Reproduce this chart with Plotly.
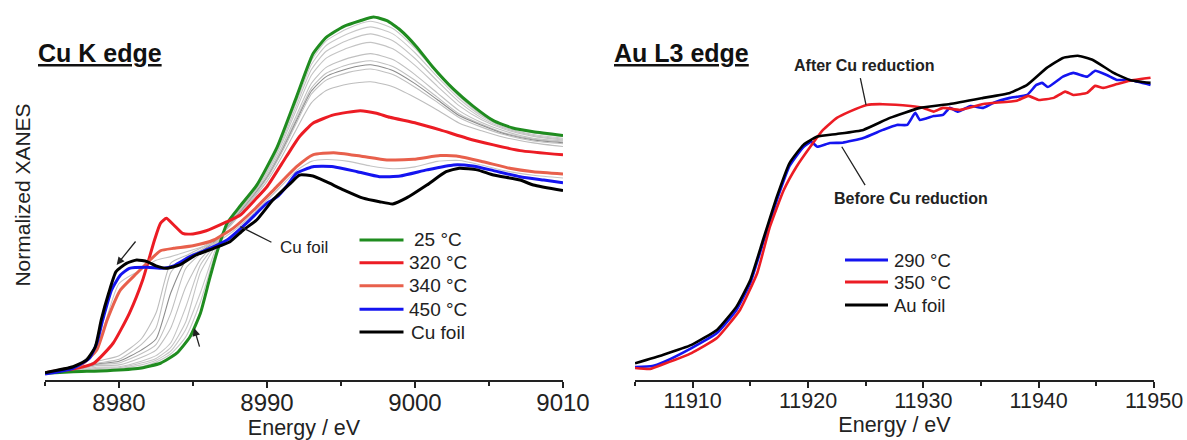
import plotly.graph_objects as go

# ---------------- Cu K edge (left panel) ----------------
GREEN_E = [8975.1, 8976.9, 8979.2, 8981.4, 8982.8, 8983.9, 8984.8, 8985.5, 8986.1, 8986.6,
           8987.3, 8988.2, 8989.3, 8990.7, 8992.0, 8993.1, 8994.0, 8995.2, 8996.3, 8997.2,
           8998.1, 8999.0, 9000.1, 9001.2, 9002.6, 9003.9, 9005.3, 9006.6, 9008.0, 9010.0]
GREEN_Y = [0.015, 0.023, 0.029, 0.042, 0.069, 0.123, 0.212, 0.339, 0.519, 0.663,
           0.825, 0.92, 1.03, 1.24, 1.51, 1.74, 1.83, 1.89, 1.92, 1.94,
           1.92, 1.87, 1.78, 1.67, 1.55, 1.46, 1.38, 1.34, 1.32, 1.30]

RED_E = [8975.0, 8976.9, 8978.3, 8979.6, 8980.7, 8981.6, 8982.4, 8982.8, 8983.2, 8983.7,
         8984.3, 8985.0, 8985.9, 8987.3, 8988.2, 8989.3, 8990.0, 8991.3, 8992.2, 8993.1,
         8994.5, 8996.3, 8997.4, 8998.3, 9000.1, 9001.7, 9003.5, 9005.3, 9007.1, 9010.0]
RED_Y = [0.018, 0.038, 0.069, 0.177, 0.339, 0.519, 0.735, 0.825, 0.852, 0.816,
         0.771, 0.768, 0.785, 0.834, 0.87, 0.962, 1.023, 1.185, 1.294, 1.366,
         1.411, 1.434, 1.42, 1.398, 1.366, 1.33, 1.285, 1.249, 1.218, 1.195]

ORANGE_E = [8975.0, 8977.4, 8978.5, 8979.2, 8980.1, 8981.2, 8982.1, 8982.8, 8983.7, 8985.0,
            8986.4, 8987.7, 8989.1, 8990.5, 8992.0, 8993.1, 8994.5, 8996.3, 8998.1, 8999.9,
            9001.7, 9002.8, 9004.6, 9006.4, 9008.0, 9010.0]
ORANGE_Y = [0.018, 0.059, 0.141, 0.303, 0.465, 0.555, 0.627, 0.677, 0.69, 0.704,
            0.735, 0.798, 0.897, 1.01, 1.131, 1.195, 1.207, 1.189, 1.168, 1.171,
            1.191, 1.189, 1.158, 1.123, 1.104, 1.092]

BLUE_E = [8975.0, 8976.9, 8978.0, 8978.5, 8978.9, 8979.5, 8980.1, 8980.7, 8981.9, 8983.0,
          8983.7, 8984.8, 8985.9, 8987.3, 8988.6, 8990.0, 8990.7, 8991.3, 8992.0, 8993.1,
          8994.5, 8996.1, 8997.6, 8999.0, 9000.8, 9002.6, 9003.9, 9005.3, 9007.1, 9008.7, 9010.0]
BLUE_Y = [0.011, 0.042, 0.096, 0.177, 0.303, 0.465, 0.546, 0.582, 0.588, 0.582,
          0.595, 0.645, 0.681, 0.735, 0.825, 0.934, 0.969, 1.023, 1.096, 1.131,
          1.131, 1.104, 1.077, 1.081, 1.114, 1.141, 1.135, 1.11, 1.077, 1.059, 1.045]

FOIL_E = [8975.0, 8976.9, 8977.8, 8978.4, 8978.8, 8979.3, 8979.8, 8980.5, 8981.2, 8981.9,
          8982.5, 8983.2, 8984.1, 8985.2, 8986.4, 8987.5, 8988.4, 8989.3, 8990.4, 8991.6,
          8992.2, 8993.1, 8994.0, 8995.2, 8996.5, 8997.6, 8998.5, 8999.4, 9000.8, 9002.1,
          9003.0, 9004.2, 9005.3, 9007.1, 9008.0, 9010.0]
FOIL_Y = [0.018, 0.05, 0.086, 0.158, 0.303, 0.447, 0.564, 0.609, 0.627, 0.618,
          0.595, 0.582, 0.6, 0.654, 0.69, 0.726, 0.789, 0.843, 0.951, 1.042,
          1.086, 1.081, 1.05, 1.005, 0.961, 0.942, 0.93, 0.961, 1.032, 1.104,
          1.123, 1.114, 1.086, 1.059, 1.032, 1.002]

# intermediate spectra of the temperature series (thin grey lines)
GRAY_E = [8975, 8977, 8978.5, 8980, 8981.5, 8982.5, 8983.5, 8984.5, 8985.5, 8986.5, 8987.5,
          8988.5, 8990, 8991, 8992, 8993, 8994, 8995.5, 8997, 8998.5, 9000, 9001.5, 9003,
          9004.5, 9006, 9008, 9010]
GRAY_1 = [0.016, 0.024, 0.030, 0.035, 0.050, 0.075, 0.120, 0.210, 0.400, 0.660, 0.850, 0.945,
          1.125, 1.293, 1.499, 1.704, 1.811, 1.879, 1.917, 1.878, 1.771, 1.636, 1.510, 1.412,
          1.353, 1.314, 1.295]
GRAY_2 = [0.016, 0.025, 0.035, 0.040, 0.060, 0.085, 0.135, 0.250, 0.450, 0.680, 0.845, 0.940,
          1.118, 1.283, 1.483, 1.683, 1.786, 1.851, 1.887, 1.849, 1.747, 1.618, 1.497, 1.405,
          1.345, 1.305, 1.285]
GRAY_3 = [0.016, 0.026, 0.041, 0.045, 0.070, 0.095, 0.155, 0.290, 0.560, 0.700, 0.840, 0.935,
          1.110, 1.270, 1.464, 1.656, 1.755, 1.816, 1.849, 1.812, 1.716, 1.595, 1.480, 1.395,
          1.340, 1.300, 1.280]
GRAY_4 = [0.016, 0.028, 0.047, 0.050, 0.080, 0.110, 0.180, 0.370, 0.600, 0.710, 0.835, 0.930,
          1.099, 1.255, 1.442, 1.625, 1.718, 1.774, 1.803, 1.768, 1.679, 1.567, 1.460, 1.385,
          1.335, 1.295, 1.275]
GRAY_5 = [0.016, 0.030, 0.056, 0.060, 0.100, 0.140, 0.260, 0.480, 0.630, 0.720, 0.830, 0.925,
          1.086, 1.235, 1.411, 1.582, 1.668, 1.718, 1.742, 1.710, 1.629, 1.530, 1.433, 1.370,
          1.325, 1.285, 1.270]
GRAY_6 = [0.016, 0.031, 0.062, 0.070, 0.120, 0.170, 0.340, 0.580, 0.660, 0.725, 0.825, 0.920,
          1.077, 1.223, 1.392, 1.556, 1.636, 1.683, 1.704, 1.673, 1.598, 1.507, 1.416, 1.360,
          1.315, 1.280, 1.265]
GRAY_7 = [0.016, 0.032, 0.065, 0.080, 0.140, 0.200, 0.450, 0.620, 0.670, 0.730, 0.820, 0.915,
          1.072, 1.215, 1.381, 1.540, 1.618, 1.662, 1.682, 1.651, 1.580, 1.494, 1.406, 1.355,
          1.310, 1.275, 1.260]
GRAY_8 = [0.016, 0.033, 0.069, 0.090, 0.170, 0.260, 0.560, 0.640, 0.680, 0.735, 0.815, 0.910,
          1.067, 1.208, 1.369, 1.524, 1.599, 1.641, 1.659, 1.629, 1.561, 1.480, 1.396, 1.345,
          1.305, 1.270, 1.255]
GRAY_9 = [0.016, 0.035, 0.079, 0.110, 0.200, 0.340, 0.610, 0.650, 0.690, 0.740, 0.810, 0.905,
          1.052, 1.185, 1.335, 1.476, 1.543, 1.578, 1.590, 1.563, 1.505, 1.438, 1.366, 1.325,
          1.290, 1.260, 1.240]
GRAY_10 = [0.016, 0.046, 0.160, 0.500, 0.575, 0.625, 0.645, 0.670, 0.695, 0.720, 0.770, 0.835,
           0.950, 1.030, 1.110, 1.160, 1.170, 1.160, 1.135, 1.120, 1.130, 1.160, 1.165, 1.140,
           1.110, 1.085, 1.070]
GRAY_SERIES = [GRAY_1, GRAY_2, GRAY_3, GRAY_4, GRAY_5, GRAY_6, GRAY_7, GRAY_8, GRAY_9, GRAY_10]
GRAY_SHADES = ["#c8c8c8", "#c8c8c8", "#c4c4c4", "#c4c4c4", "#c0c0c0", "#c0c0c0", "#8c8c8c",
               "#c0c0c0", "#bdbdbd", "#c4c4c4"]

CU_NAMES = ["25 °C", "320 °C", "340 °C", "450 °C", "Cu foil"]
CU_COLORS = ["#1f8c1f", "#ec1c24", "#e8604c", "#1414f0", "#000000"]

# ---------------- Au L3 edge (right panel) ----------------
AUFOIL_E = [11905.0, 11907.4, 11909.9, 11912.1, 11913.8, 11915.0, 11916.1, 11917.3, 11918.4,
            11919.6, 11920.8, 11922.5, 11924.8, 11927.1, 11929.7, 11932.3, 11935.2, 11937.5,
            11939.0, 11940.7, 11942.1, 11943.4, 11944.7, 11946.5, 11947.9, 11949.7]
AUFOIL_Y = [0.069, 0.114, 0.168, 0.249, 0.375, 0.519, 0.735, 0.969, 1.151,
            1.249, 1.294, 1.308, 1.33, 1.395, 1.449, 1.47, 1.503, 1.53,
            1.573, 1.665, 1.719, 1.731, 1.708, 1.638, 1.60, 1.584]

AU290_E = [11905.0, 11906.5, 11907.5, 11909.9, 11912.1, 11913.8, 11915.0, 11916.1, 11917.3,
           11918.4, 11919.6, 11920.3, 11920.8, 11921.9, 11923.0, 11924.8, 11926.5, 11927.7,
           11928.6, 11929.3, 11929.7, 11930.9, 11931.7, 11932.3, 11933.0, 11934.1, 11935.2,
           11936.1, 11937.5, 11939.0, 11939.8, 11940.3, 11940.8, 11942.1, 11943.0, 11944.2,
           11944.9, 11945.9, 11946.8, 11947.9, 11949.7]
AU290_Y = [0.049, 0.054, 0.076, 0.151, 0.232, 0.357, 0.503, 0.719, 0.951,
           1.135, 1.238, 1.266, 1.239, 1.259, 1.261, 1.286, 1.33, 1.357,
           1.357, 1.422, 1.384, 1.405, 1.411, 1.449, 1.429, 1.459, 1.449,
           1.477, 1.503, 1.519, 1.573, 1.584, 1.562, 1.618, 1.638, 1.618,
           1.65, 1.627, 1.60, 1.60, 1.573]

AU350_E = [11905.0, 11906.3, 11907.5, 11909.9, 11912.1, 11914.1, 11915.6, 11916.7, 11917.9,
           11919.0, 11920.2, 11921.3, 11922.5, 11923.6, 11925.1, 11926.5, 11928.9, 11930.0,
           11930.9, 11931.7, 11933.2, 11935.2, 11938.1, 11939.1, 11940.0, 11941.3, 11942.3,
           11943.0, 11944.2, 11944.9, 11945.6, 11946.8, 11947.9, 11949.7]
AU350_Y = [0.043, 0.038, 0.065, 0.124, 0.205, 0.357, 0.557, 0.807, 1.005,
           1.131, 1.239, 1.33, 1.395, 1.429, 1.465, 1.469, 1.459, 1.449,
           1.429, 1.449, 1.438, 1.47, 1.488, 1.514, 1.492, 1.503, 1.537,
           1.519, 1.53, 1.568, 1.557, 1.578, 1.596, 1.612]

AU_NAMES = ["290 °C", "350 °C", "Au foil"]
AU_COLORS = ["#1414f0", "#ec1c24", "#000000"]

CU_TICKS = [8980, 8990, 9000, 9010]
AU_TICKS = [11910, 11920, 11930, 11940, 11950]

# ---------------- page geometry ----------------
FW, FH = 1187, 440


def px(xp):
    return xp / FW


def py(yp):
    return 1 - yp / FH


FONT = "Liberation Sans, Arial, sans-serif"
TXT = "#222222"
Y_RANGE = [-0.0216, 1.978]

fig = go.Figure()

for g, c in zip(GRAY_SERIES, GRAY_SHADES):
    fig.add_trace(go.Scatter(x=GRAY_E, y=g, mode="lines",
                             line=dict(color=c, width=1.1, shape="spline", smoothing=0.6),
                             showlegend=False, hoverinfo="skip", xaxis="x", yaxis="y"))

cu_series = [(GREEN_E, GREEN_Y), (RED_E, RED_Y), (ORANGE_E, ORANGE_Y), (BLUE_E, BLUE_Y), (FOIL_E, FOIL_Y)]
for (ex, ey), name, col in zip(cu_series, CU_NAMES, CU_COLORS):
    fig.add_trace(go.Scatter(x=ex, y=ey, mode="lines", name=name,
                             line=dict(color=col, width=3, shape="spline", smoothing=0.5),
                             xaxis="x", yaxis="y", showlegend=False))

au_series = [(AU290_E, AU290_Y), (AU350_E, AU350_Y), (AUFOIL_E, AUFOIL_Y)]
for (ex, ey), name, col in zip(au_series, AU_NAMES, AU_COLORS):
    fig.add_trace(go.Scatter(x=ex, y=ey, mode="lines", name=name,
                             line=dict(color=col, width=2.6, shape="spline", smoothing=0.4),
                             xaxis="x2", yaxis="y2", showlegend=False))


def xaxis_style(tick_size):
    return dict(showline=True, linecolor=TXT, linewidth=1.5, ticks="outside", ticklen=6,
                tickwidth=1.5, tickcolor=TXT, showgrid=False, zeroline=False, automargin=False,
                tickfont=dict(family=FONT, size=tick_size, color=TXT), ticklabelstandoff=-6,
                minor=dict(ticks="outside", ticklen=4, tickwidth=1.5, tickcolor=TXT, dtick=5),
                title=dict(text="Energy / eV", font=dict(family=FONT, size=21.5, color=TXT),
                           standoff=2))


fig.update_layout(
    template="none",
    width=FW, height=FH, margin=dict(l=0, r=0, t=0, b=0, pad=0, autoexpand=False), autosize=False,
    paper_bgcolor="white", plot_bgcolor="white",
    font=dict(family=FONT, color=TXT),
    xaxis=dict(domain=[px(45), px(563)], range=[8975, 9010], tickvals=CU_TICKS,
               ticktext=[str(t) for t in CU_TICKS], anchor="y", **xaxis_style(24)),
    yaxis=dict(domain=[py(380), py(10)], range=Y_RANGE, showline=False, showticklabels=False,
               ticks="", showgrid=False, zeroline=False, automargin=False,
               title=dict(text="Normalized XANES", font=dict(family=FONT, size=21, color=TXT),
                          standoff=7)),
    xaxis2=dict(domain=[px(635), px(1154)], range=[11905, 11950], tickvals=AU_TICKS,
                ticktext=[str(t) for t in AU_TICKS], anchor="y2", **xaxis_style(21.5)),
    yaxis2=dict(domain=[py(380), py(10)], range=Y_RANGE, anchor="x2", showline=False,
                showticklabels=False, ticks="", showgrid=False, zeroline=False, automargin=False),
    showlegend=False,
)

annotations = [
    dict(text="<b><u>Cu K edge</u></b>", xref="paper", yref="paper", x=px(36), y=py(53),
         xanchor="left", yanchor="middle", showarrow=False, font=dict(family=FONT, size=25, color="#111")),
    dict(text="<b><u>Au L3 edge</u></b>", xref="paper", yref="paper", x=px(612), y=py(53),
         xanchor="left", yanchor="middle", showarrow=False, font=dict(family=FONT, size=25, color="#111")),
    # Cu foil label with leader line
    dict(text="Cu foil", xref="x", yref="y", x=8992.5, y=0.697, xanchor="center", yanchor="middle",
         showarrow=False, font=dict(family=FONT, size=17, color=TXT)),
    dict(text="", xref="x", yref="y", x=8988.2, y=0.807, axref="x", ayref="y", ax=8990.4, ay=0.719,
         showarrow=True, arrowhead=0, arrowwidth=1.3, arrowcolor=TXT),
    # arrows showing the spectral evolution
    dict(text="", xref="x", yref="y", x=8979.84, y=0.60, axref="x", ayref="y", ax=8981.2, ay=0.735,
         showarrow=True, arrowhead=2, arrowsize=1.2, arrowwidth=1.3, arrowcolor=TXT),
    dict(text="", xref="x", yref="y", x=8985.07, y=0.259, axref="x", ayref="y", ax=8985.47, ay=0.151,
         showarrow=True, arrowhead=2, arrowsize=1.2, arrowwidth=1.3, arrowcolor=TXT),
    # Au panel labels
    dict(text="<b>After Cu reduction</b>", xref="x2", yref="y2", x=11924.86, y=1.676,
         xanchor="center", yanchor="middle", showarrow=False, font=dict(family=FONT, size=16, color=TXT)),
    dict(text="", xref="x2", yref="y2", x=11925.03, y=1.465, axref="x2", ayref="y2", ax=11924.51, ay=1.618,
         showarrow=True, arrowhead=0, arrowwidth=1.3, arrowcolor=TXT),
    dict(text="<b>Before Cu reduction</b>", xref="x2", yref="y2", x=11928.94, y=0.957,
         xanchor="center", yanchor="middle", showarrow=False, font=dict(family=FONT, size=16, color=TXT)),
    dict(text="", xref="x2", yref="y2", x=11922.93, y=1.239, axref="x2", ayref="y2", ax=11925.03, ay=1.023,
         showarrow=True, arrowhead=0, arrowwidth=1.3, arrowcolor=TXT),
]

# legends (line sample + label) drawn in page coordinates
CU_LEG_ROWS = [240, 262.7, 285.7, 309.3, 332]
AU_LEG_ROWS = [260, 282, 305]
shapes = []
for name, col, row in zip(CU_NAMES, CU_COLORS, CU_LEG_ROWS):
    shapes.append(dict(type="line", xref="paper", yref="paper", x0=px(359.5), x1=px(403.5),
                       y0=py(row), y1=py(row), line=dict(color=col, width=3)))
    annotations.append(dict(text=name, xref="paper", yref="paper", x=px(438), y=py(row),
                            xanchor="center", yanchor="middle", showarrow=False,
                            font=dict(family=FONT, size=19, color=TXT)))
for name, col, row in zip(AU_NAMES, AU_COLORS, AU_LEG_ROWS):
    shapes.append(dict(type="line", xref="paper", yref="paper", x0=px(845), x1=px(888),
                       y0=py(row), y1=py(row), line=dict(color=col, width=3)))
    annotations.append(dict(text=name, xref="paper", yref="paper", x=px(892), y=py(row),
                            xanchor="left", yanchor="middle", showarrow=False,
                            font=dict(family=FONT, size=18.5, color=TXT)))

fig.update_layout(annotations=annotations, shapes=shapes)

# remove the default page margin so the figure fills the window exactly
fig.write_html("out.html", config={"responsive": False, "displayModeBar": False},
               post_script="document.body.style.margin='0px';document.body.style.overflow='hidden';")
